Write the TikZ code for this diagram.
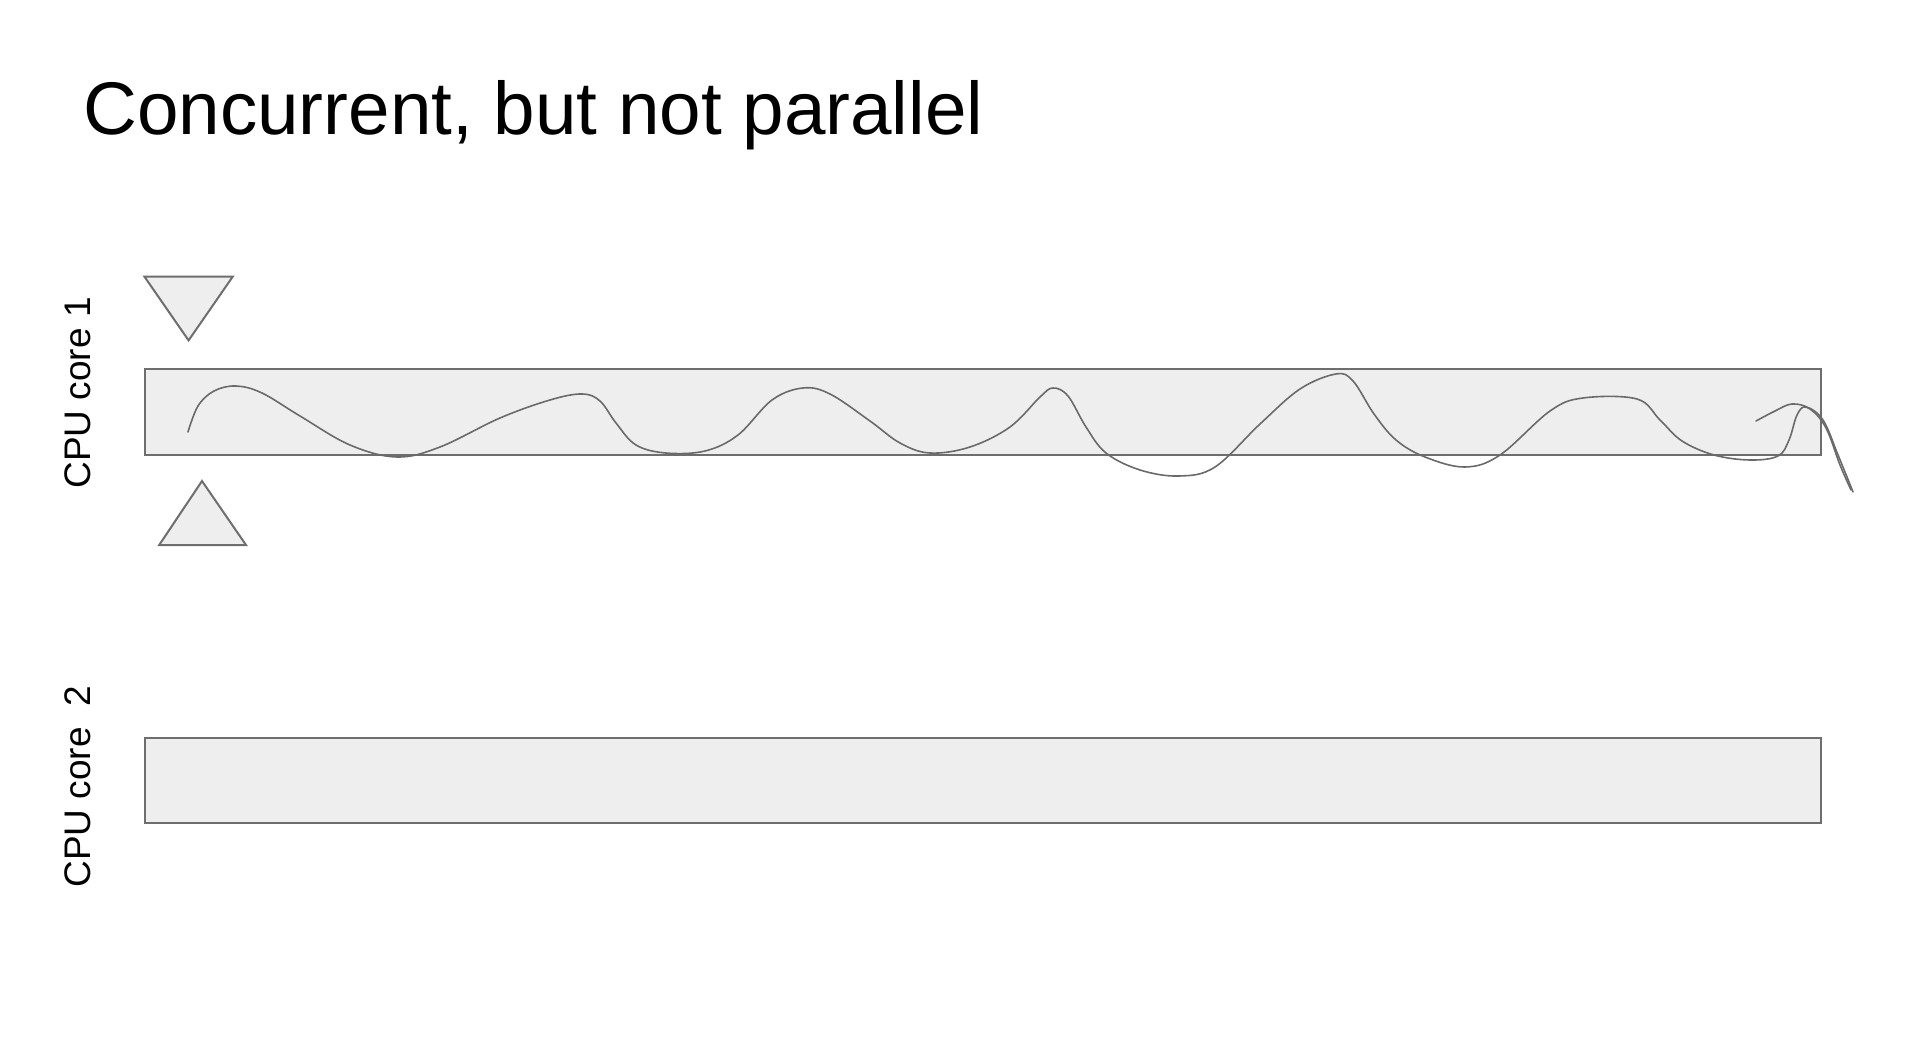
\documentclass[tikz,border=0pt]{standalone}
\usepackage{fontspec}
\setmainfont{Liberation Sans}
\definecolor{edge}{HTML}{6E6E6E}
\definecolor{boxfill}{HTML}{EEEEEE}
\definecolor{wave}{HTML}{6A6A6A}
\begin{document}
\begin{tikzpicture}[x=0.5pt,y=-0.5pt,
  corebox/.style={draw=edge,fill=boxfill,line width=1pt},
  marker/.style={draw=edge,fill=boxfill,line width=1pt,line join=miter},
  wavy/.style={draw=wave,line width=0.8pt,line cap=round,line join=round},
  lbl/.style={font=\fontsize{18.5}{21}\selectfont,rotate=90,anchor=base west,inner sep=0pt}]
\useasboundingbox[fill=white] (0,0) rectangle (1920,1058);
\node[font=\fontsize{37.3}{44}\selectfont,anchor=base west,inner sep=0pt] (title) at (83,134.7) {Concurrent, but not parallel};
% cores
\draw[corebox] (144.5,368.6) rectangle (1821,455.5);
\coordinate (core1) at (144.5,368.6);
\draw[corebox] (144.5,738.4) rectangle (1821,822.9);
\coordinate (core2) at (144.5,738.4);
\node[lbl] (l1) at (90.6,489) {CPU core 1};
\node[lbl] (l2) at (90.6,888) {CPU core\ \ 2};
% markers
\draw[marker] (144.5,276.7) -- (232.7,276.7) -- (188.6,340.4) -- cycle;
\draw[marker] (159.2,545) -- (246,545) -- (202,481) -- cycle;
% wave
\draw[wavy] plot[smooth,tension=0.6] coordinates {
 (188,432) (198,406) (214,391) (236,386) (262,393) (300,416) (350,445) (397,457)
 (440,447) (500,418) (550,400) (582,394) (600,401) (616,423) (636,445) (666,453)
 (705,451) (738,435) (772,400) (803,388) (830,394) (870,421) (900,443) (930,453)
 (970,447) (1010,427) (1040,397) (1053,388) (1068,396) (1086,427) (1106,453)
 (1140,470) (1179,476) (1215,467) (1260,424) (1300,389) (1336,374) (1353,381)
 (1374,414) (1396,440) (1425,457) (1465,467) (1500,455) (1550,411) (1583,398)
 (1637,399) (1660,420) (1682,441) (1714,455) (1750,460) (1778,456) (1789,440)
 (1797,415) (1806,407) (1823,420) (1838,455) (1853,492)};
\draw[wavy] plot[smooth,tension=0.6] coordinates {
 (1756,421) (1775,411) (1792,404) (1810,409) (1826,428) (1840,465) (1851,490)};
\end{tikzpicture}
\end{document}
